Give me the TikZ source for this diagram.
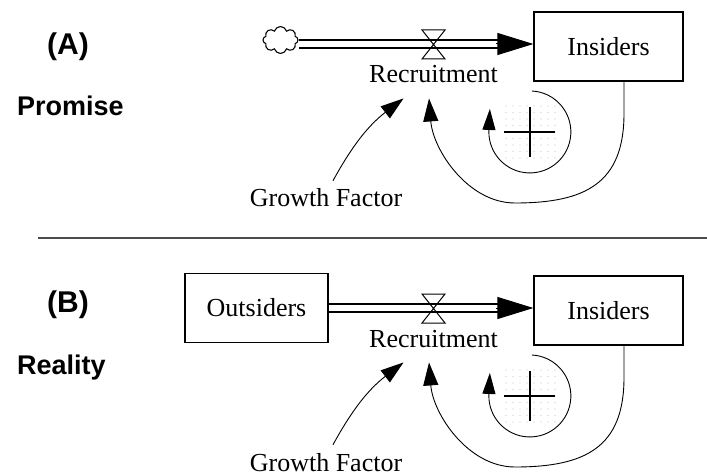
\documentclass[tikz,border=0pt]{standalone}
\usepackage{fontspec}
\setmainfont{Liberation Serif}
\setsansfont{Liberation Sans}
\usetikzlibrary{arrows.meta,shapes.symbols}
\tikzset{sdiag/.style={x=1pt,y=-1pt,font=\fontsize{26}{28}\selectfont},
  stock/.style={draw,line width=1.2pt,minimum height=69pt,inner sep=0pt},
  pipe/.style={double,double distance=6.6pt,line width=1.3pt,shorten >=30pt},
  flowtip/.style={-{Triangle[length=36pt,width=22pt]},line width=1pt},
  link/.style={line width=0.9pt,-{Triangle[length=23pt,width=15pt]}},
  tag/.style={font=\sffamily\bfseries\fontsize{27}{29}\selectfont,inner sep=0pt}}

\begin{document}
\begin{tikzpicture}[sdiag]
    \useasboundingbox (0,0) rectangle (707,476);
    % panel labels
    \node[tag,font=\sffamily\bfseries\fontsize{30}{32}\selectfont] (tagA) at (68,47) {(A)};
    \node[tag,anchor=base west] (promise) at (17,115.5) {Promise};
    \node[tag,font=\sffamily\bfseries\fontsize{30}{32}\selectfont] (tagB) at (68,305) {(B)};
    \node[tag,anchor=base west] (reality) at (17,374) {Reality};
    \draw[line width=1.5pt,black!70] (38,238) -- (707,238);
    % sources
    \node[cloud,draw,line width=1.1pt,cloud puffs=8,minimum width=35pt,minimum height=27pt,inner sep=0pt] (srcA) at (280.5,40) {};
    \node[stock,minimum width=143pt] (srcB) at (256.5,308) {Outsiders};
    \foreach \p/\dy in {A/0,B/264} {
      \begin{scope}[yshift=-\dy pt]
        \node[stock,minimum width=149pt] (ins\p) at (608.5,46.5) {Insiders};
        \coordinate (v\p) at (433.5,44);
        \path (v\p -| ins\p.west) coordinate (e\p);
        \draw[pipe] (src\p.east |- v\p) -- (e\p);
        \draw[flowtip] ([xshift=-37pt]e\p) -- (e\p);
        \draw[line width=1pt] ([shift={(-11.5,-14)}]v\p) -- ++(23,0) -- ([shift={(-11.5,15)}]v\p) -- ++(23,0) -- cycle;
        \node[anchor=base,inner xsep=2pt,inner ysep=15pt] (rec\p) at (433.5,83) {Recruitment};
        \node[anchor=base,inner sep=0pt] (gf\p) at (326,207) {Growth Factor};
        \draw[link] ([shift={(7,-8)}]gf\p.north) to[bend left=12] ([xshift=-30pt]rec\p.south);
        \draw[link] ([xshift=15.5pt]ins\p.south) -- ++(0,32) .. controls +(0,70) and (585,203) .. (515,203)
          .. controls (468,203) and (433,150) .. ([xshift=-4.5pt]rec\p.south);
        % reinforcing loop
        \foreach \i in {0,...,7} \foreach \j in {0,...,8}
          \fill[gray!45] (506+\i*7,106+\j*6.5) circle (0.6pt);
        \draw[line width=0.9pt,-{Triangle[length=21pt,width=13pt]}] (532,91) arc[start angle=-87,end angle=180,radius=41] -- ++(1,-23);
        \draw[line width=2.2pt] (504,132) -- (555,132) (530,107) -- (530,157);
      \end{scope}
    }
\end{tikzpicture}
\end{document}
